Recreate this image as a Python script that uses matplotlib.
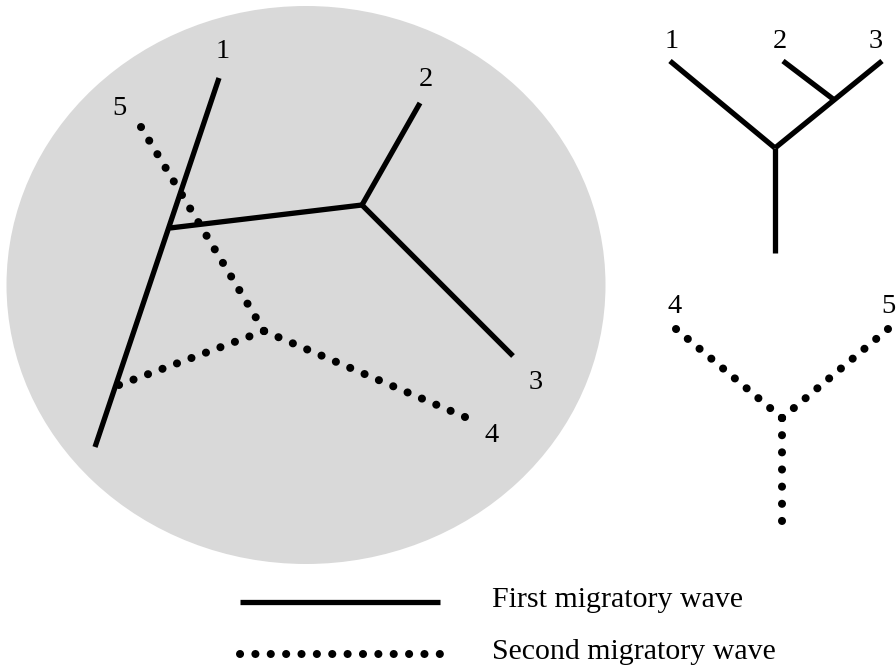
import matplotlib
matplotlib.use("Agg")
import matplotlib.pyplot as plt
from matplotlib.patches import Ellipse
import numpy as np

# node positions (pixel coordinates of the drawing, y pointing down)
first_wave_circle = [
    [(219, 78), (95, 447)],             # branch 1 (main trunk)
    [(170, 228), (362, 205)],           # link to inner node
    [(362, 205), (420, 103)],           # branch 2
    [(362, 205), (513, 356)],           # branch 3
]
second_wave_circle = [
    [(141, 127), (264, 331)],           # branch 5
    [(119, 385), (264, 331)],           # link back to trunk
    [(465, 417), (264, 331)],           # branch 4
]
circle_labels = ["1", "2", "3", "4", "5"]
circle_label_pos = [(223, 48), (426, 76), (536, 379), (492, 432), (119, 105)]

first_wave_tree = [
    [(670, 61), (775, 148)],
    [(882, 61), (775, 148)],
    [(783, 61), (833, 99)],
    [(775, 148), (775, 253)],
]
second_wave_tree = [
    [(676, 329), (782, 418)],
    [(888, 329), (782, 418)],
    [(782, 418), (782, 521)],
]
tree_labels = ["1", "2", "3", "4", "5"]
tree_label_pos = [(672, 38), (780, 38), (876, 38), (675, 303), (888, 303)]

legend_labels = ["First migratory wave", "Second migratory wave"]

font = "Liberation Serif"
solid_kw = dict(color="black", lw=3.8, solid_capstyle="butt")
dot_lw = 5.8
dot_px = dot_lw * 100 / 72


def dotted(ax, seg, step=15.5):
    # spread the dots so one lands on each end of the segment
    (x0, y0), (x1, y1) = seg
    length = np.hypot(x1 - x0, y1 - y0)
    n = max(1, round(length / step))
    off = (length / n) / dot_px - 0.01 - 0.002
    ax.plot([x0, x1], [y0, y1], color="black", lw=dot_lw,
            linestyle=(0, (0.01, off)), dash_capstyle="round")


fig = plt.figure(figsize=(8.96, 6.69), dpi=100)
ax = fig.add_axes([0, 0, 1, 1])
ax.set_xlim(0, 896)
ax.set_ylim(669, 0)
ax.axis("off")

ax.add_patch(Ellipse((306, 285), 599, 558, color="#d9d9d9", lw=0))

for seg in first_wave_circle + first_wave_tree:
    xs, ys = zip(*seg)
    ax.plot(xs, ys, **solid_kw)

for seg in second_wave_circle:
    dotted(ax, seg)
for seg in second_wave_tree[:2]:
    dotted(ax, seg, 15.3)
dotted(ax, second_wave_tree[2], 17.2)

# digits: baseline sits ~10 px below the visual centre
for lab, (x, y) in zip(circle_labels + tree_labels, circle_label_pos + tree_label_pos):
    ax.text(x, y + 10, lab, ha="center", va="baseline", fontsize=20.5, family=font)

# legend
ax.plot([240, 440], [602, 602], **solid_kw)
dotted(ax, [(240, 654), (440, 654)], 15.4)
ax.text(492, 607, legend_labels[0], ha="left", va="baseline", fontsize=21.5, family=font)
ax.text(492, 659, legend_labels[1], ha="left", va="baseline", fontsize=21.5, family=font)

fig.savefig("out.png", dpi=100)
